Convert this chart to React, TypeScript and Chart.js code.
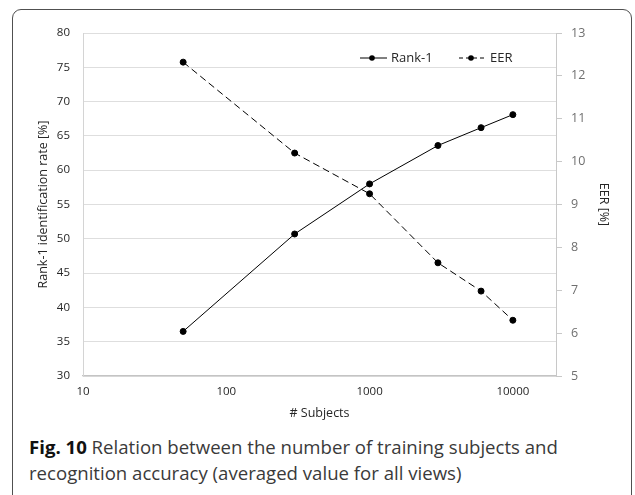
import React, { useEffect, useRef } from "react";
import { Chart, registerables } from "chart.js";

Chart.register(...registerables);

const subjects = [50, 300, 1000, 3000, 6000, 10000];
const rank1 = [36.5, 50.7, 58.0, 63.6, 66.2, 68.1];
const eer = [12.32, 10.2, 9.25, 7.64, 6.98, 6.3];
const xTickValues = [10, 100, 1000, 10000];
const seriesNames = ["Rank-1", "EER"];

const FONT = "'Open Sans', 'Noto Sans', sans-serif";

const legendPlugin = {
  id: "lineLegend",
  afterDraw(chart: any) {
    const { ctx, chartArea } = chart;
    const y = chartArea.top + 25;
    const items = [
      { x: chartArea.right - 196, dash: [] as number[], label: seriesNames[0] },
      { x: chartArea.right - 97, dash: [4, 3], label: seriesNames[1] },
    ];
    ctx.save();
    items.forEach((it) => {
      ctx.strokeStyle = "#000";
      ctx.lineWidth = 1;
      ctx.setLineDash(it.dash);
      ctx.beginPath();
      ctx.moveTo(it.x, y);
      ctx.lineTo(it.x + 27, y);
      ctx.stroke();
      ctx.setLineDash([]);
      ctx.fillStyle = "#000";
      ctx.beginPath();
      ctx.arc(it.x + 12, y, 2.8, 0, Math.PI * 2);
      ctx.fill();
      ctx.fillStyle = "#262626";
      ctx.font = `13px ${FONT}`;
      ctx.textBaseline = "middle";
      ctx.textAlign = "left";
      ctx.fillText(it.label, it.x + 31, y + 0.5);
    });
    ctx.restore();
  },
};

export default function App() {
  const ref = useRef<HTMLCanvasElement | null>(null);

  useEffect(() => {
    if (!ref.current) return;
    Chart.defaults.font.family = FONT;
    const chart = new Chart(ref.current, {
      type: "line",
      data: {
        datasets: [
          {
            label: seriesNames[0],
            data: subjects.map((s, i) => ({ x: s, y: rank1[i] })),
            yAxisID: "y",
            borderColor: "#000",
            borderWidth: 1,
            pointRadius: 3,
            pointBackgroundColor: "#000",
            pointBorderColor: "#000",
            tension: 0,
          },
          {
            label: seriesNames[1],
            data: subjects.map((s, i) => ({ x: s, y: eer[i] })),
            yAxisID: "y1",
            borderColor: "#000",
            borderWidth: 1,
            borderDash: [7, 4],
            pointRadius: 3,
            pointBackgroundColor: "#000",
            pointBorderColor: "#000",
            tension: 0,
          },
        ],
      },
      options: {
        animation: false,
        responsive: false,
        maintainAspectRatio: false,
        layout: { padding: { left: 0, right: 0, top: 33, bottom: 0 } },
        plugins: { legend: { display: false }, tooltip: { enabled: false } },
        scales: {
          x: {
            type: "logarithmic",
            min: 10,
            max: 20000,
            afterBuildTicks: (scale: any) => {
              scale.ticks = xTickValues.map((v) => ({ value: v }));
            },
            afterFit: (scale: any) => {
              scale.height = 54;
            },
            ticks: {
              autoSkip: false,
              maxRotation: 0,
              padding: 9,
              color: "#262626",
              font: { size: 11.5 },
              callback: (v: any) => String(v),
            },
            grid: { display: false, drawTicks: false },
            border: { display: true, color: "#c4c4c4", width: 1.3 },
            title: {
              display: true,
              text: "# Subjects",
              color: "#262626",
              font: { size: 12.5 },
              padding: { top: 0, bottom: 9.5 },
            },
          },
          y: {
            type: "linear",
            position: "left",
            min: 30,
            max: 80,
            afterFit: (scale: any) => {
              scale.width = 83;
            },
            ticks: {
              stepSize: 5,
              padding: 13,
              color: "#262626",
              font: { size: 11.5 },
            },
            grid: { color: "#dedede", drawTicks: false, lineWidth: 1 },
            border: { display: true, color: "#d4d4d4" },
            title: {
              display: true,
              text: "Rank-1 identification rate [%]",
              color: "#262626",
              font: { size: 12.5 },
              padding: { top: 35.5, bottom: 0 },
            },
          },
          y1: {
            type: "linear",
            position: "right",
            min: 5,
            max: 13,
            afterFit: (scale: any) => {
              scale.width = 79;
            },
            ticks: {
              stepSize: 1,
              padding: 9,
              color: "#6f6f6f",
              font: { size: 12.5 },
            },
            grid: { drawOnChartArea: false, drawTicks: true, tickLength: 6, color: "#c8c8c8" },
            border: { display: true, color: "#c8c8c8" },
            title: {
              display: true,
              text: "EER [%]",
              color: "#262626",
              font: { size: 12.5 },
              padding: { top: 24, bottom: 0 },
            },
          },
        },
      },
      plugins: [legendPlugin],
    } as any);
    return () => chart.destroy();
  }, []);

  return (
    <div
      style={{
        position: "fixed",
        left: 0,
        top: 0,
        width: 635,
        height: 495,
        overflow: "hidden",
        background: "#fff",
      }}
    >
      <div
        style={{
          position: "absolute",
          left: 12,
          top: 9,
          width: 620,
          height: 520,
          border: "1.5px solid #505050",
          borderRadius: 9,
          boxSizing: "border-box",
        }}
      />
      <canvas
        ref={ref}
        width={635}
        height={430}
        style={{ position: "absolute", left: 0, top: 0, width: 635, height: 430 }}
      />
      <div
        style={{
          position: "absolute",
          left: 29,
          top: 434,
          width: 600,
          fontFamily: FONT,
          fontSize: 18.6,
          lineHeight: "26px",
          color: "#3a3a3a",
          whiteSpace: "nowrap",
        }}
      >
        <span style={{ fontWeight: 700, color: "#111" }}>Fig. 10</span> Relation between the number of training subjects and
        <br />
        recognition accuracy (averaged value for all views)
      </div>
    </div>
  );
}
